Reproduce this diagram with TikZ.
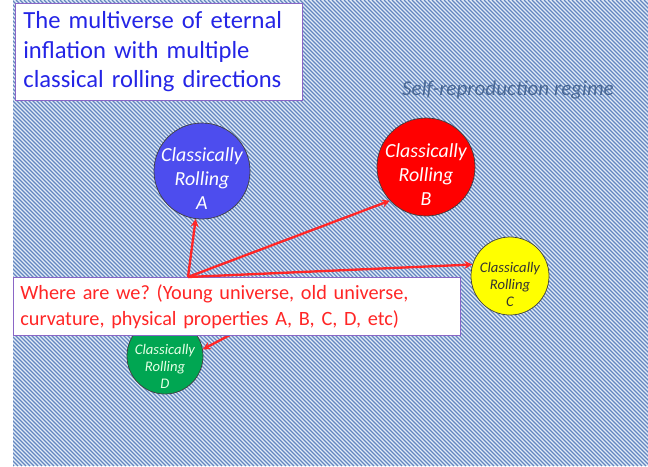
\documentclass[tikz,border=0pt]{standalone}
\usepackage{fontspec}
\setmainfont{Carlito}
\usetikzlibrary{positioning}
\frenchspacing

\definecolor{stripelight}{HTML}{E2ECF7}
\definecolor{stripedark}{HTML}{6386C0}
\definecolor{titleblue}{HTML}{2424E6}
\definecolor{boxline}{HTML}{8A66C6}
\definecolor{wherered}{HTML}{FF2626}
\definecolor{regimeblue}{HTML}{4A6894}
\definecolor{ballA}{HTML}{4D4DEE}
\definecolor{ballB}{HTML}{FF0000}
\definecolor{ballC}{HTML}{FFFF00}
\definecolor{ballD}{HTML}{00A652}

\tikzset{
  hatchline/.style={stripedark,line width=0.95pt},
  textbox/.style={draw=boxline,fill=white,line width=0.6pt,anchor=north west,align=left},
  rollball/.style={circle,draw=black!75,line width=0.6pt,inner sep=0pt},
  rolltext/.style={align=center,font=\itshape},
  pointer/.style={->,wherered,line width=2pt}
}

\begin{document}
\begin{tikzpicture}[x=0.03cm,y=-0.03cm,>=stealth]
      \useasboundingbox (0,0) rectangle (648,466);
      % striped background
      \fill[stripelight] (13,0) rectangle (648,466);
      \begin{scope}
        \clip (13,0) rectangle (648,466);
        \foreach \i in {-468,-464,...,648}
          \draw[hatchline] (\i,0) -- ++(466,466);
      \end{scope}

      \node[textbox,text=titleblue,inner xsep=0.24cm,text width=8.13cm,minimum height=2.91cm,
            font=\fontsize{21}{25}\selectfont] (title) at (15,3)
            {The multiverse of eternal\\inflation with multiple\\classical rolling directions};
      \node[text=regimeblue,font=\fontsize{18}{21}\selectfont\itshape] (regime) at (508,90) {Self-reproduction regime};

      % the four rolling directions
      \node[rollball,fill=ballA,minimum size=2.88cm,
            label={[rolltext,text=white,yshift=-0.22cm,font=\fontsize{17}{20.5}\selectfont\itshape]center:Classically\\Rolling\\A}] (rollA) at (202,171) {};
      \node[rollball,fill=ballB,minimum size=2.94cm,
            label={[rolltext,text=white,yshift=-0.24cm,font=\fontsize{17}{20.5}\selectfont\itshape]center:Classically\\Rolling\\B}] (rollB) at (426,167) {};
      \node[rollball,fill=ballC,minimum size=2.34cm,
            label={[rolltext,text=black!80,yshift=-0.24cm,font=\fontsize{12.5}{14.5}\selectfont\itshape]center:Classically\\Rolling\\C}] (rollC) at (510,276) {};
      \node[rollball,fill=ballD,minimum size=2.28cm,
            label={[rolltext,text=green!10!white,yshift=-0.3cm,font=\fontsize{12.5}{14.5}\selectfont\itshape]center:Classically\\Rolling\\D}] (rollD) at (165,356) {};

      \coordinate (src) at (188,277);
      \coordinate (srcD) at (262,318);
      \draw[pointer] (srcD) -- (rollD.10);

      \node[textbox,text=wherered,inner xsep=0.21cm,text width=12.99cm,minimum height=1.74cm,
            font=\fontsize{17.3}{22}\selectfont] (where) at (13,277)
            {Where are we? (Young universe, old universe,\\curvature, physical properties A, B, C, D, etc)};

      \draw[pointer] (src) -- (rollA);
      \draw[pointer] (src) -- (rollB.223);
      \draw[pointer] (src) -- (rollC.163);
\end{tikzpicture}
\end{document}
